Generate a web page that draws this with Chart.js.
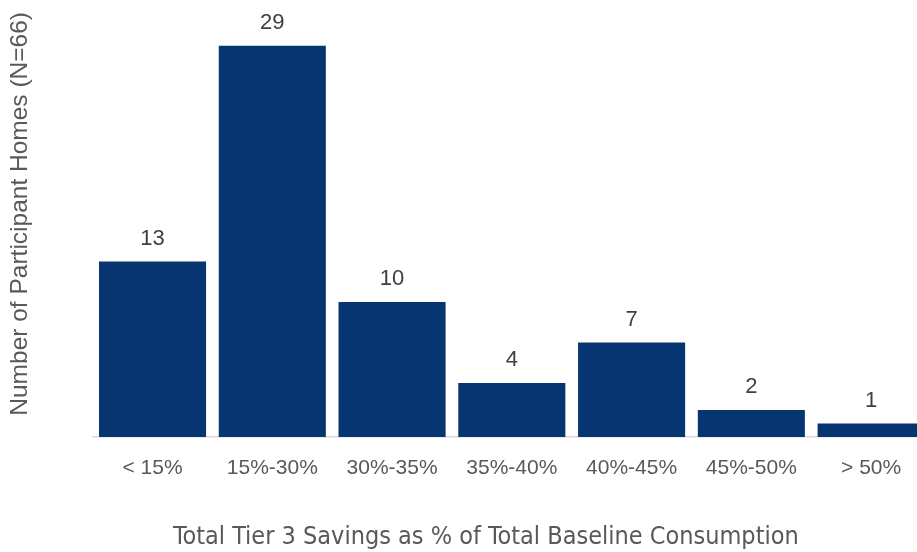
<!DOCTYPE html>
<html>
<head>
<meta charset="utf-8">
<script src="https://cdn.jsdelivr.net/npm/chart.js@4.4.0/dist/chart.umd.min.js"></script>
<style>
  html, body { margin: 0; padding: 0; background: #ffffff; overflow: hidden; }
  #wrap { position: relative; width: 931px; height: 552px; }
</style>
</head>
<body>
<div id="wrap"><canvas id="chart" width="931" height="552"></canvas></div>
<script>
// Savings bins and number of homes falling in each
const categories = ['< 15%', '15%-30%', '30%-35%', '35%-40%', '40%-45%', '45%-50%', '> 50%'];
const homeCounts = [13, 29, 10, 4, 7, 2, 1];
const xTitle = 'Total Tier 3 Savings as % of Total Baseline Consumption';
const yTitle = 'Number of Participant Homes (N=66)';

const barColor = '#063571';
const textGrey = '#595959';
const labelGrey = '#404040';

// Writes each bar's count just above its top
const valueLabels = {
  id: 'valueLabels',
  afterDatasetsDraw(chart) {
    const ctx = chart.ctx;
    const meta = chart.getDatasetMeta(0);
    const values = chart.data.datasets[0].data;
    ctx.save();
    ctx.font = '22px "Liberation Sans", Arial, sans-serif';
    ctx.fillStyle = labelGrey;
    ctx.textAlign = 'center';
    ctx.textBaseline = 'middle';
    meta.data.forEach((bar, i) => {
      ctx.fillText(String(values[i]), bar.x, bar.y - 23);
    });
    ctx.restore();
  }
};

// Category-axis caption, centred under the visible part of the plot
const xCaption = {
  id: 'xCaption',
  afterDraw(chart) {
    const ctx = chart.ctx;
    const area = chart.chartArea;
    ctx.save();
    ctx.font = '25px "Liberation Sans Narrow", "Arial Narrow", "DejaVu Sans Condensed", sans-serif';
    ctx.fillStyle = textGrey;
    ctx.textAlign = 'center';
    ctx.textBaseline = 'middle';
    ctx.fillText(xTitle, (area.left + 880) / 2 - 0.5, chart.height - 15);
    ctx.restore();
  }
};

new Chart(document.getElementById('chart'), {
  type: 'bar',
  data: {
    labels: categories,
    datasets: [{
      data: homeCounts,
      backgroundColor: barColor,
      borderWidth: 0,
      barPercentage: 0.894,
      categoryPercentage: 1.0
    }]
  },
  options: {
    responsive: false,
    animation: false,
    layout: { padding: { top: 12, right: 0, bottom: 0, left: 0 } },
    plugins: {
      legend: { display: false },
      tooltip: { enabled: false }
    },
    scales: {
      x: {
        afterFit(scale) { scale.height = 115; },
        grid: { display: true, drawOnChartArea: false, drawTicks: false, color: 'transparent' },
        border: { display: true, color: '#d9d9d9', width: 1.5 },
        ticks: {
          color: textGrey,
          font: { family: '"Liberation Sans", Arial, sans-serif', size: 21 },
          padding: 19,
          maxRotation: 0
        },
        title: { display: false }
      },
      y: {
        min: 0,
        max: 31.5,
        afterFit(scale) { scale.width = 92.65; },
        grid: { display: false },
        border: { display: false },
        ticks: { display: false },
        title: {
          display: true,
          text: yTitle,
          align: 'end',
          color: textGrey,
          font: { family: '"Liberation Sans", Arial, sans-serif', size: 24.5 },
          padding: { top: 6, bottom: 0 }
        }
      }
    }
  },
  plugins: [valueLabels, xCaption]
});
</script>
</body>
</html>
